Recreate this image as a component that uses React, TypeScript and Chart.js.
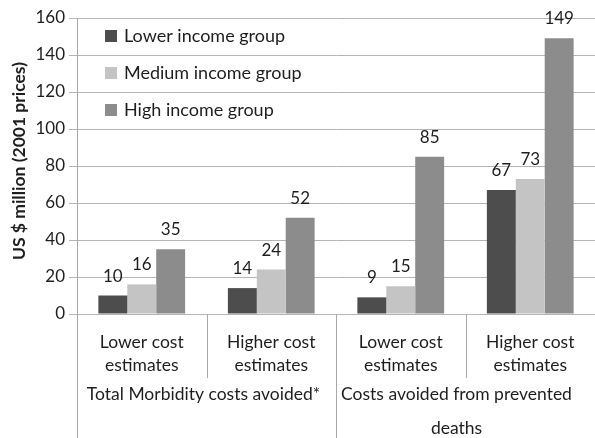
import React, { useEffect, useRef } from "react";
import { Chart, registerables } from "chart.js";

Chart.register(...registerables);

// Sub-category labels (two lines each) and the two outer groups
const categoryLines: string[][] = [
  ["Lower cost", "estimates"],
  ["Higher cost", "estimates"],
  ["Lower cost", "estimates"],
  ["Higher cost", "estimates"],
];
const groupLines: string[][] = [
  ["Total Morbidity costs avoided*"],
  ["Costs avoided from prevented", "deaths"],
];
const groupSpans: number[][] = [
  [0, 1],
  [2, 3],
];

const seriesNames = ["Lower income group", "Medium income group", "High income group"];
const lowerIncome = [10, 14, 9, 67];
const mediumIncome = [16, 24, 15, 73];
const highIncome = [35, 52, 85, 149];
const seriesColors = ["#4d4d4d", "#c3c4c3", "#8c8c8c"];

const yMin = 0;
const yMax = 160;
const yStep = 20;
const yTitle = "US $ million (2001 prices)";

const FONT = "Lato, 'Open Sans', sans-serif";
const TEXT = "#1e1e1e";
const LINE = "#a8a8a8";

const decorations = {
  id: "decorations",
  afterDatasetsDraw(chart: any) {
    const { ctx, chartArea, scales } = chart;
    const x = scales.x;
    const H = chart.height;
    const n = categoryLines.length;
    const colW = (chartArea.right - chartArea.left) / n;
    const edge = (i: number) => x.getPixelForValue(i) - colW / 2;

    ctx.save();

    // value labels above each bar
    ctx.fillStyle = TEXT;
    ctx.font = `17px ${FONT}`;
    ctx.textAlign = "center";
    ctx.textBaseline = "alphabetic";
    chart.data.datasets.forEach((ds: any, di: number) => {
      const meta = chart.getDatasetMeta(di);
      meta.data.forEach((bar: any, i: number) => {
        ctx.fillText(String(ds.data[i]), bar.x, bar.y - 14);
      });
    });

    // legend inside the plot
    ctx.font = `18px ${FONT}`;
    ctx.textAlign = "left";
    ctx.textBaseline = "middle";
    seriesNames.forEach((name, i) => {
      const cy = chartArea.top + 18 + i * 37;
      ctx.fillStyle = seriesColors[i];
      ctx.fillRect(chartArea.left + 28, cy - 6, 12, 12);
      ctx.fillStyle = TEXT;
      ctx.fillText(name, chartArea.left + 47, cy);
    });

    // axis title
    ctx.save();
    ctx.translate(19, (chartArea.top + chartArea.bottom) / 2 - 5);
    ctx.rotate(-Math.PI / 2);
    ctx.font = `bold 17.5px ${FONT}`;
    ctx.textAlign = "center";
    ctx.textBaseline = "middle";
    ctx.fillText(yTitle, 0, 0);
    ctx.restore();

    // separators below the plot
    ctx.strokeStyle = LINE;
    ctx.lineWidth = 1;
    const vline = (px: number, y0: number, y1: number) => {
      const xx = Math.round(px) + 0.5;
      ctx.beginPath();
      ctx.moveTo(xx, y0);
      ctx.lineTo(xx, y1);
      ctx.stroke();
    };
    vline(chartArea.left - 0.5, chartArea.bottom, H);
    groupSpans.forEach(([a, b], gi) => {
      for (let i = a + 1; i <= b; i++) vline(edge(i), chartArea.bottom, chartArea.bottom + 64);
      if (gi > 0) vline(edge(a), chartArea.bottom, H);
    });

    // category labels
    ctx.fillStyle = TEXT;
    ctx.font = `17.5px ${FONT}`;
    ctx.textAlign = "center";
    ctx.textBaseline = "alphabetic";
    categoryLines.forEach((lines, i) => {
      const cx = x.getPixelForValue(i);
      lines.forEach((t, li) => ctx.fillText(t, cx, chartArea.bottom + 34 + li * 23));
    });

    // group labels
    const shift = [-3, -9];
    groupSpans.forEach(([a, b], gi) => {
      const cx = (edge(a) + edge(b + 1)) / 2 + shift[gi];
      groupLines[gi].forEach((t, li) => ctx.fillText(t, cx, chartArea.bottom + 86 + li * 34));
    });

    ctx.restore();
  },
};

export default function App() {
  const ref = useRef<HTMLCanvasElement>(null);

  useEffect(() => {
    document.body.style.margin = "0";
    const canvas = ref.current;
    if (!canvas) return;
    const chart = new Chart(canvas, {
      type: "bar",
      data: {
        labels: categoryLines.map((l) => l.join(" ")),
        datasets: [
          { label: seriesNames[0], data: lowerIncome, backgroundColor: seriesColors[0] },
          { label: seriesNames[1], data: mediumIncome, backgroundColor: seriesColors[1] },
          { label: seriesNames[2], data: highIncome, backgroundColor: seriesColors[2] },
        ],
      },
      options: {
        responsive: false,
        animation: false,
        devicePixelRatio: 1,
        layout: { padding: { top: 18, bottom: 124, left: 0, right: 0 } },
        datasets: { bar: { categoryPercentage: 0.67, barPercentage: 1 } },
        plugins: { legend: { display: false }, tooltip: { enabled: false } },
        scales: {
          x: { display: false },
          y: {
            min: yMin,
            max: yMax,
            afterFit: (s: any) => {
              s.width = 77;
            },
            ticks: {
              stepSize: yStep,
              color: TEXT,
              font: { family: FONT, size: 17 },
              padding: 4,
            },
            grid: { color: "#b4b4b4", tickLength: 8, lineWidth: 1 },
            border: { color: LINE },
          },
        },
      },
      plugins: [decorations],
    });
    return () => chart.destroy();
  }, []);

  return <canvas ref={ref} width={595} height={438} style={{ display: "block" }} />;
}
